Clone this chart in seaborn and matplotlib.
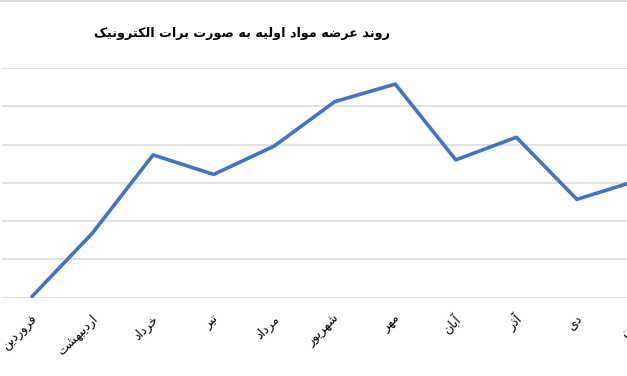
import matplotlib
matplotlib.use("Agg")
import matplotlib.pyplot as plt
from matplotlib.lines import Line2D
from matplotlib.transforms import ScaledTranslation
import seaborn as sns
import pandas as pd

# ---- data ----
title = "روند عرضه مواد اولیه به صورت برات الکترونیک"
months = ["فروردین", "اردیبهشت", "خرداد", "تیر", "مرداد", "شهریور",
          "مهر", "آبان", "آذر", "دی", "بهمن"]
values = [0.03, 1.69, 3.73, 3.22, 3.96, 5.12, 5.58, 3.60, 4.19, 2.57, 3.06]
grid_ticks = [0, 1, 2, 3, 4, 5, 6]

# ---- minimal Persian shaping (presentation forms + RTL) ----
FORMS = {
    'ا': (0xFE8D, 0xFE8E, None, None),
    'آ': (0xFE81, 0xFE82, None, None),
    'ب': (0xFE8F, 0xFE90, 0xFE91, 0xFE92),
    'ت': (0xFE95, 0xFE96, 0xFE97, 0xFE98),
    'خ': (0xFEA5, 0xFEA6, 0xFEA7, 0xFEA8),
    'د': (0xFEA9, 0xFEAA, None, None),
    'ذ': (0xFEAB, 0xFEAC, None, None),
    'ر': (0xFEAD, 0xFEAE, None, None),
    'ش': (0xFEB5, 0xFEB6, 0xFEB7, 0xFEB8),
    'ص': (0xFEB9, 0xFEBA, 0xFEBB, 0xFEBC),
    'ض': (0xFEBD, 0xFEBE, 0xFEBF, 0xFEC0),
    'ع': (0xFEC9, 0xFECA, 0xFECB, 0xFECC),
    'ف': (0xFED1, 0xFED2, 0xFED3, 0xFED4),
    'ک': (0xFB8E, 0xFB8F, 0xFB90, 0xFB91),
    'ل': (0xFEDD, 0xFEDE, 0xFEDF, 0xFEE0),
    'م': (0xFEE1, 0xFEE2, 0xFEE3, 0xFEE4),
    'ن': (0xFEE5, 0xFEE6, 0xFEE7, 0xFEE8),
    'ه': (0xFEE9, 0xFEEA, 0xFEEB, 0xFEEC),
    'و': (0xFEED, 0xFEEE, None, None),
    'ی': (0xFBFC, 0xFBFD, 0xFBFE, 0xFBFF),
}


def shape(text):
    out = []
    n = len(text)
    for i, c in enumerate(text):
        if c not in FORMS:
            out.append(c)
            continue
        prev = text[i - 1] if i > 0 else None
        nxt = text[i + 1] if i + 1 < n else None
        iso, fin, ini, med = FORMS[c]
        jp = prev in FORMS and FORMS[prev][2] is not None
        jn = nxt in FORMS and ini is not None
        if jp and jn:
            f = med
        elif jp:
            f = fin
        elif jn:
            f = ini
        else:
            f = iso
        out.append(chr(f))
    return "".join(out)[::-1]


sns.set_theme(style="white")
plt.rcParams['font.family'] = ['DejaVu Sans']

df = pd.DataFrame({"month": months, "value": values})

fig = plt.figure(figsize=(6.27, 3.76), dpi=100)
ax = fig.add_axes([1.7 / 627, 1 - 297.7 / 376, 666 / 627, (297.7 - 68) / 376])

sns.lineplot(data=df, x="month", y="value", sort=False, ax=ax,
             color="#4472C4", linewidth=2.6, solid_joinstyle="round",
             solid_capstyle="round", zorder=3)

ax.set_xlim(-0.5, len(months) - 0.5)
ax.set_ylim(grid_ticks[0], grid_ticks[-1])
ax.set_yticks(grid_ticks)
ax.set_yticklabels([])
ax.yaxis.grid(True, color="#D9D9D9", linewidth=1.1)
ax.xaxis.grid(False)
for s in ax.spines.values():
    s.set_visible(False)
ax.set_xlabel("")
ax.set_ylabel("")
ax.set_xticks(range(len(months)))
ax.set_xticklabels([shape(m) for m in months], rotation=45, ha="right",
                   va="center", rotation_mode="anchor", fontsize=9,
                   color="#000000")
ax.tick_params(axis="x", length=0, pad=14)
ax.tick_params(axis="y", length=0)
shift = ScaledTranslation(3 / 100, 0, fig.dpi_scale_trans)
for lab in ax.get_xticklabels():
    lab.set_transform(lab.get_transform() + shift)

fig.text(241.5 / 627, 1 - 33 / 376, shape(title), ha="center", va="center",
         fontsize=9.2, fontweight="bold", color="#000000")

fig.add_artist(Line2D([0, 1], [1 - 0.8 / 376, 1 - 0.8 / 376],
                      transform=fig.transFigure, color="#D9D9D9", linewidth=1.5))

fig.savefig("out.png", dpi=100)
